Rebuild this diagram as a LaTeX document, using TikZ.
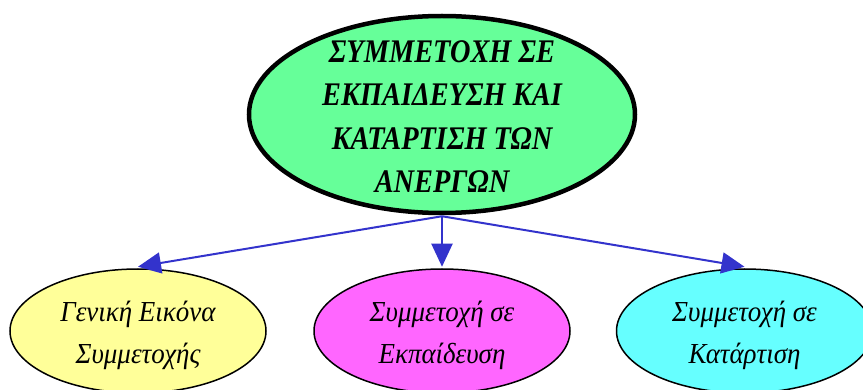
\documentclass[tikz,border=0pt]{standalone}
\usepackage{fontspec}
\setmainfont{Liberation Serif}
\usetikzlibrary{shapes.geometric,arrows.meta}
\definecolor{topgreen}{HTML}{66FF99}
\definecolor{lyellow}{HTML}{FFFF99}
\definecolor{lpink}{HTML}{FF66FF}
\definecolor{lcyan}{HTML}{66FFFF}
\definecolor{linkblue}{HTML}{3333CC}
\begin{document}
\begin{tikzpicture}[x=1pt,y=-1pt,
  bubble/.style={ellipse, draw=black, inner sep=0pt, line width=1.5pt,
    minimum width=256pt, minimum height=124pt},
  mainbubble/.style={ellipse, draw=black, inner sep=0pt, line width=4.5pt,
    fill=topgreen, minimum width=386pt, minimum height=197pt},
  lbl/.style={inner sep=0pt, align=center,
    font=\itshape\fontsize{29}{42}\selectfont\addfontfeatures{FakeStretch=0.93}},
  mainlbl/.style={inner sep=0pt, align=center,
    font=\bfseries\itshape\fontsize{33}{43.5}\selectfont\addfontfeatures{FakeStretch=0.86}},
  link/.style={draw=linkblue, line width=2pt, -{Triangle[length=23pt,width=21pt]}}]
\useasboundingbox (0,0) rectangle (863,390);
\node[mainbubble] (top) at (442,114.5) {};
\node[mainlbl] (toptext) at ([yshift=-2pt]top.center) {ΣΥΜΜΕΤΟΧΗ ΣΕ\\ΕΚΠΑΙΔΕΥΣΗ ΚΑΙ\\ΚΑΤΑΡΤΙΣΗ ΤΩΝ\\ΑΝΕΡΓΩΝ};
\node[bubble, fill=lyellow] (gen) at (138,331) {};
\node[bubble, fill=lpink] (edu) at (442,331) {};
\node[bubble, fill=lcyan] (trn) at (744.5,331) {};
\node[lbl] (gentext) at ([yshift=-4pt]gen.center) {Γενική Εικόνα\\Συμμετοχής};
\node[lbl] (edutext) at ([yshift=-4pt]edu.center) {Συμμετοχή σε\\Εκπαίδευση};
\node[lbl] (trntext) at ([yshift=-4pt]trn.center) {Συμμετοχή σε\\Κατάρτιση};
\coordinate (hub) at ([yshift=-1pt]top.south);
\draw[link] (hub) -- ([yshift=1.5pt]gen.north);
\draw[link] (hub) -- ([yshift=1.5pt]edu.north);
\draw[link] (hub) -- ([yshift=1.5pt]trn.north);
\end{tikzpicture}
\end{document}
